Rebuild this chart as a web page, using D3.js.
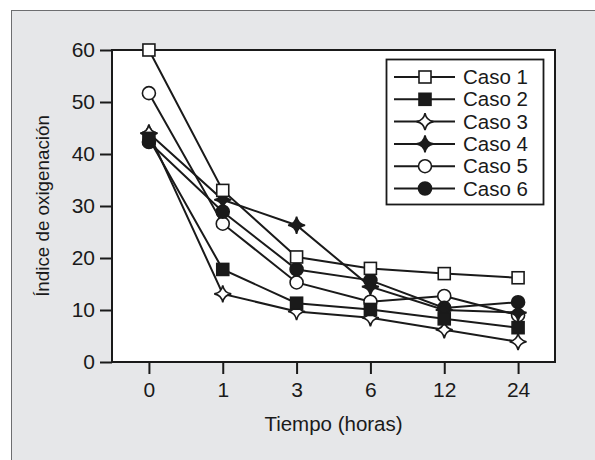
<!DOCTYPE html>
<style>
  body { margin: 0; background: #fff; }
  text { font-family: "Liberation Sans", Arial, sans-serif; fill: #1a1a1a; }
</style>
<body></body>
<script src="https://cdn.jsdelivr.net/npm/d3@7/dist/d3.min.js"></script>
<script>
  const width = 595
  const height = 460
  const plot = { left: 112, top: 50, right: 555, bottom: 362 }

  const hours = ["0", "1", "3", "6", "12", "24"]
  const yTicks = [0, 10, 20, 30, 40, 50, 60]
  const caseNames = ["Caso 1", "Caso 2", "Caso 3", "Caso 4", "Caso 5", "Caso 6"]

  const caso1 = [60, 33, 20.2, 18, 17, 16.2]
  const caso2 = [43, 17.8, 11.3, 10.1, 8.3, 6.6]
  const caso3 = [44, 13.1, 9.7, 8.5, 6.2, 3.9]
  const caso4 = [44, 31.2, 26.3, 14.5, 10, 9.5]
  const caso5 = [51.7, 26.6, 15.3, 11.6, 12.7, 9]
  const caso6 = [42.3, 28.9, 17.8, 15.7, 10.4, 11.5]

  const markers = ["square-open", "square", "star-open", "star", "circle-open", "circle"]

  const series = [caso1, caso2, caso3, caso4, caso5, caso6].map((values, i) => ({
    name: caseNames[i],
    marker: markers[i],
    values: values.map((v, j) => ({ hour: hours[j], value: v }))
  }))

  const x = d3.scalePoint()
    .domain(hours)
    .range([plot.left, plot.right])
    .padding(0.5)

  const y = d3.scaleLinear()
    .domain([0, 60])
    .range([plot.bottom, plot.top])

  // diamond with concave sides, used for casos 3 and 4
  function starPath(r) {
    const c = r * 0.15
    const p = d3.path()
    p.moveTo(0, -r)
    p.quadraticCurveTo(c, -c, r, 0)
    p.quadraticCurveTo(c, c, 0, r)
    p.quadraticCurveTo(-c, c, -r, 0)
    p.quadraticCurveTo(-c, -c, 0, -r)
    p.closePath()
    return p.toString()
  }

  function drawMarker(sel, type) {
    const filled = !type.endsWith("open")
    let shape
    if (type.startsWith("square")) {
      shape = sel.append("rect").attr("x", -6).attr("y", -6).attr("width", 12).attr("height", 12)
    } else if (type.startsWith("circle")) {
      shape = sel.append("circle").attr("r", 6.5)
    } else {
      shape = sel.append("path").attr("d", starPath(8.5))
    }
    shape
      .attr("fill", filled ? "#1a1a1a" : "#fff")
      .attr("stroke", "#1a1a1a")
      .attr("stroke-width", 1.6)
  }

  const svg = d3.select("body").append("svg")
    .attr("width", width)
    .attr("height", height)

  // grey panel, cut off on the right and bottom
  svg.append("rect")
    .attr("x", 11.5).attr("y", 10.5)
    .attr("width", width).attr("height", height)
    .attr("fill", "#e6e7e9")
    .attr("stroke", "#6d6e70")
    .attr("stroke-width", 1)

  svg.append("rect")
    .attr("x", plot.left).attr("y", plot.top)
    .attr("width", plot.right - plot.left)
    .attr("height", plot.bottom - plot.top)
    .attr("fill", "#fff")
    .attr("stroke", "#1a1a1a")
    .attr("stroke-width", 2)

  const yAxis = d3.axisLeft(y)
    .tickValues(yTicks)
    .tickSize(12)
    .tickPadding(5)

  const xAxis = d3.axisBottom(x)
    .tickSize(12)
    .tickPadding(8)

  svg.append("g")
    .attr("transform", `translate(${plot.left}, 0)`)
    .call(yAxis)
    .call(g => g.select(".domain").remove())

  svg.append("g")
    .attr("transform", `translate(0, ${plot.bottom})`)
    .call(xAxis)
    .call(g => g.select(".domain").remove())

  svg.selectAll(".tick line").attr("stroke", "#1a1a1a").attr("stroke-width", 2)
  svg.selectAll(".tick text")
    .attr("font-size", 21)
    .attr("font-family", "Liberation Sans, Arial, sans-serif")
    .attr("fill", "#1a1a1a")

  svg.append("text")
    .attr("x", (plot.left + plot.right) / 2)
    .attr("y", 431)
    .attr("text-anchor", "middle")
    .attr("font-size", 20.5)
    .text("Tiempo (horas)")

  svg.append("text")
    .attr("transform", `translate(49, ${(plot.top + plot.bottom) / 2}) rotate(-90)`)
    .attr("text-anchor", "middle")
    .attr("font-size", 18.8)
    .text("Índice de oxigenación")

  const line = d3.line()
    .x(d => x(d.hour))
    .y(d => y(d.value))

  svg.append("g")
    .selectAll("path")
    .data(series)
    .enter()
    .append("path")
    .attr("d", d => line(d.values))
    .attr("fill", "none")
    .attr("stroke", "#1a1a1a")
    .attr("stroke-width", 2)

  // draw order so that overlaps resemble the original
  const drawOrder = [4, 5, 3, 2, 1, 0]
  drawOrder.forEach(i => {
    const s = series[i]
    s.values.forEach(d => {
      const g = svg.append("g").attr("transform", `translate(${x(d.hour)}, ${y(d.value)})`)
      drawMarker(g, s.marker)
    })
  })

  // legend
  const legend = svg.append("g")
  legend.append("rect")
    .attr("x", 386.5).attr("y", 59.5)
    .attr("width", 157).attr("height", 145)
    .attr("fill", "#fff")
    .attr("stroke", "#1a1a1a")
    .attr("stroke-width", 1.8)

  series.forEach((s, i) => {
    const ly = 77 + i * 22.3
    const row = legend.append("g").attr("transform", `translate(0, ${ly})`)
    row.append("line")
      .attr("x1", 394).attr("x2", 455)
      .attr("stroke", "#1a1a1a").attr("stroke-width", 2)
    drawMarker(row.append("g").attr("transform", "translate(425, 0)"), s.marker)
    row.append("text")
      .attr("x", 463)
      .attr("y", 7)
      .attr("font-size", 20.5)
      .text(s.name)
  })
</script>
